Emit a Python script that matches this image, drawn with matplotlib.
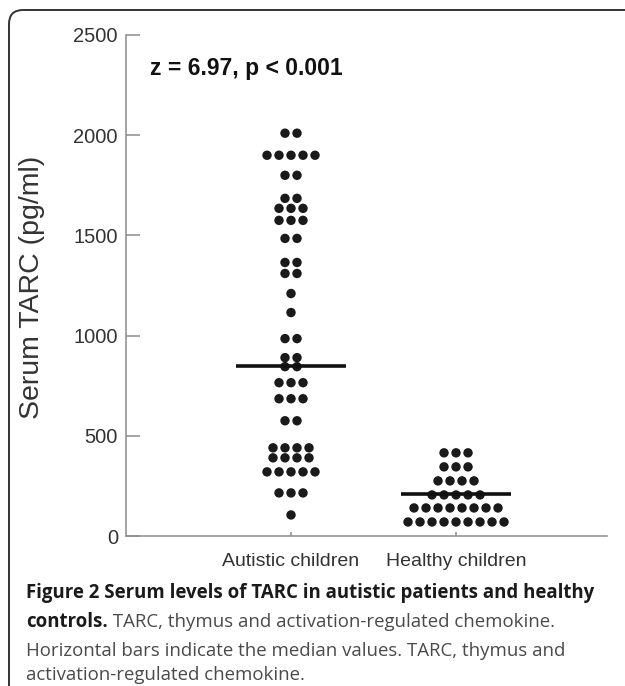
import numpy as np
import matplotlib
matplotlib.use("Agg")
import matplotlib.pyplot as plt
from matplotlib.patches import FancyBboxPatch

# valores (pg/ml), un valor por punto
autistas = ([2010] * 2 + [1900] * 5 + [1800] * 2 + [1685] * 2 + [1635] * 3 +
            [1575] * 3 + [1485] * 2 + [1365] * 2 + [1310] * 2 + [1210] + [1115] +
            [985] * 2 + [890] * 2 + [845] * 2 + [765] * 3 + [685] * 3 + [575] * 2 +
            [440] * 4 + [390] * 4 + [320] * 5 + [215] * 3 + [105])
sanos = [415] * 3 + [345] * 3 + [275] * 4 + [205] * 5 + [140] * 8 + [70] * 9
grupos = ["Autistic children", "Healthy children"]
medianas = [848, 210]
yticks = [0, 500, 1000, 1500, 2000, 2500]

W, H = 625, 686
fig = plt.figure(figsize=(W / 100, H / 100), dpi=100)
fy = lambda py: 1 - py / H

# marco redondeado de la figura
bg = fig.add_axes([0, 0, 1, 1], zorder=-1)
bg.set_xlim(0, W)
bg.set_ylim(H, 0)
bg.axis("off")
bg.add_patch(FancyBboxPatch((9, 10), 700, 800, boxstyle="round,pad=0,rounding_size=14",
                            fc="none", ec="#333333", lw=1.4))

x0, x1, y0, y1 = 126, 607, 35, 536
ax = fig.add_axes([x0 / W, fy(y1), (x1 - x0) / W, (y1 - y0) / H])
ax.set_facecolor("none")
xmin, xmax = 0, 2.915
ax.set_xlim(xmin, xmax)
ax.set_ylim(0, 2500)

paso = 12 * (xmax - xmin) / (x1 - x0)  # 12 px entre puntos
for i, datos in enumerate([autistas, sanos]):
    xc = i + 1
    vals = np.array(datos)
    for v in np.unique(vals):
        n = np.sum(vals == v)
        xs = xc + (np.arange(n) - (n - 1) / 2) * paso
        ax.scatter(xs, [v] * n, s=46, color="#1a1a1a", edgecolors="none", zorder=3)
    ax.hlines(medianas[i], xc - 0.333, xc + 0.333, color="#111111", lw=2.6, zorder=4)

for s in ["top", "right"]:
    ax.spines[s].set_visible(False)
for s in ["left", "bottom"]:
    ax.spines[s].set_color("#8c8c8c")
    ax.spines[s].set_linewidth(1.1)

ax.set_yticks(yticks)
ax.set_xticks([1, 2])
ax.set_xticklabels(grupos)
ax.tick_params(axis="y", direction="in", length=10, width=1.1, color="#8c8c8c",
               labelsize=14.5, labelcolor="#333333", pad=5.8)
ax.tick_params(axis="x", direction="in", length=3, width=1.1, color="#8c8c8c",
               labelsize=14, labelcolor="#333333", pad=12.5)
for lab in ax.get_xticklabels() + ax.get_yticklabels():
    lab.set_family("Liberation Sans")

fig.text(32 / W, fy(287), "Serum TARC (pg/ml)", rotation=90, ha="center", va="center",
         fontsize=20.5, color="#333333", family="Liberation Sans")
fig.text(150 / W, fy(75), "z = 6.97, p < 0.001", fontsize=16.5, weight="bold",
         color="#111111", family="Liberation Sans", va="baseline")

# pie de figura
cap = dict(fontsize=13.4, family="Open Sans", va="baseline")
fig.text(26 / W, fy(598), "Figure 2 Serum levels of TARC in autistic patients and healthy",
         weight="bold", color="#1a1a1a", **cap)
t = fig.text(26 / W, fy(627), "controls.", weight="bold", color="#1a1a1a", **cap)
r = fig.canvas.get_renderer()
bb = t.get_window_extent(r)
fig.text(bb.x1 / W, fy(627), " TARC, thymus and activation-regulated chemokine.",
         color="#4a4a4a", **cap)
fig.text(26 / W, fy(656), "Horizontal bars indicate the median values. TARC, thymus and",
         color="#4a4a4a", **cap)
fig.text(26 / W, fy(680), "activation-regulated chemokine.", color="#4a4a4a", **cap)

fig.savefig("out.png", dpi=100)
